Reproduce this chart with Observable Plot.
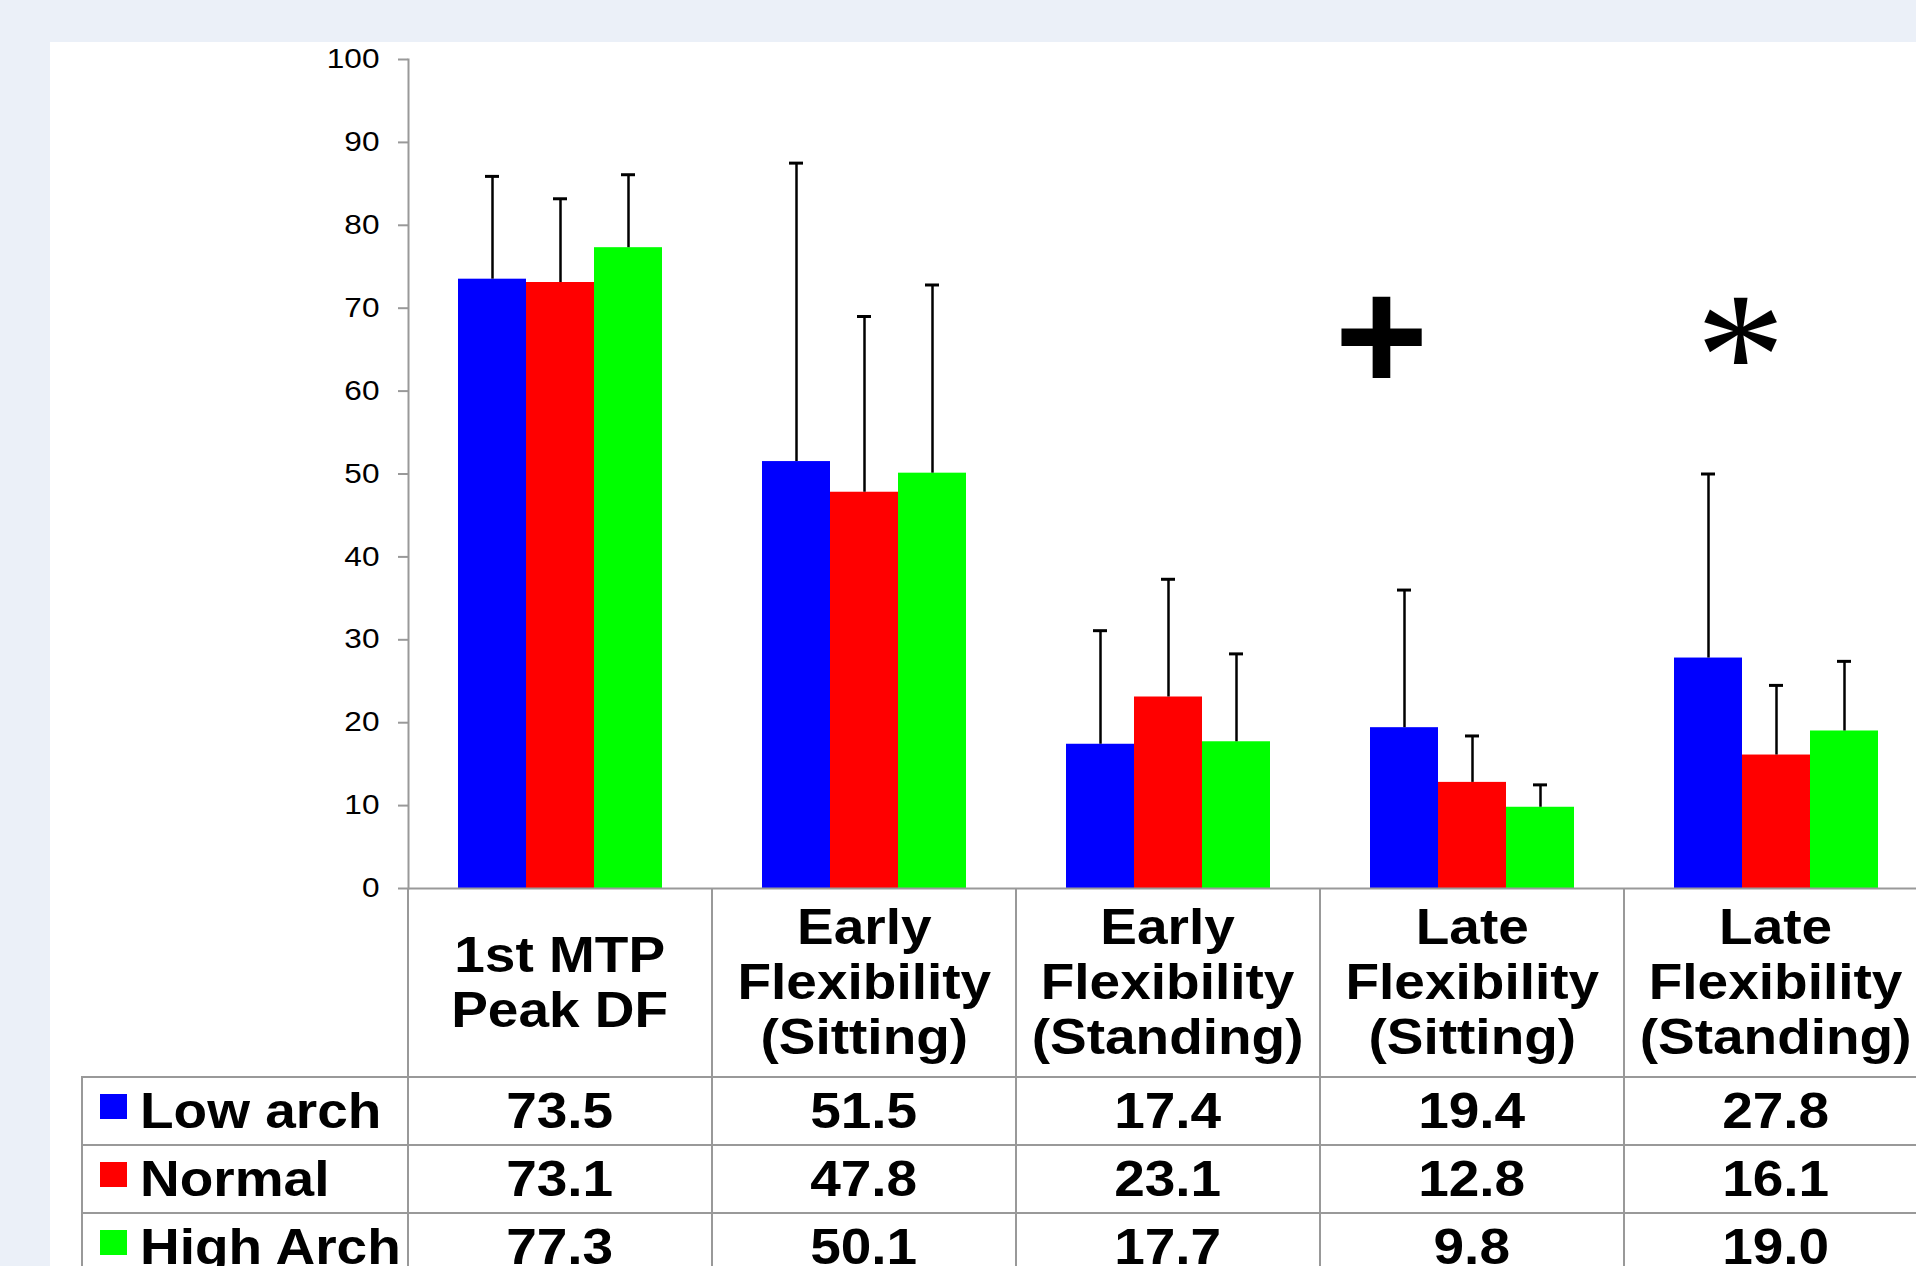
<!DOCTYPE html>
<html>
<head>
<meta charset="utf-8">
<script src="https://cdn.jsdelivr.net/npm/d3@7"></script>
<script src="https://cdn.jsdelivr.net/npm/@observablehq/plot@0.6"></script>
<style>
  html, body { margin: 0; padding: 0; width: 1916px; height: 1266px; overflow: hidden; background: #EBF0F8; }
  #panel { position: absolute; left: 50px; top: 42px; width: 1900px; height: 1300px; background: #ffffff; }
  #chart { position: absolute; left: 0; top: 0; }
  .ln { position: absolute; background: #999999; }
  .cell { position: absolute; display: flex; align-items: center; justify-content: center;
          font-family: 'Liberation Sans', Arial, sans-serif; font-weight: bold; font-size: 50px; color: #000; }
  .cell span { display: inline-block; transform: scaleX(1.1); text-align: center; line-height: 55px; white-space: nowrap; }
  .lab { justify-content: flex-start; }
  .lab span { transform-origin: left center; }
  .sw { position: absolute; width: 27px; height: 25px; }
</style>
</head>
<body>
<div id="panel"></div>
<div id="chart"></div>
<div id="table"></div>
<script>
// ---- data ----
const categories = [
  "1st MTP\nPeak DF",
  "Early\nFlexibility\n(Sitting)",
  "Early\nFlexibility\n(Standing)",
  "Late\nFlexibility\n(Sitting)",
  "Late\nFlexibility\n(Standing)"
];
const series = ["Low arch", "Normal", "High Arch"];
const colors = ["#0000ff", "#ff0000", "#00ff00"];
const lowArch  = [73.5, 51.5, 17.4, 19.4, 27.8];
const normal   = [73.1, 47.8, 23.1, 12.8, 16.1];
const highArch = [77.3, 50.1, 17.7, 9.8, 19.0];
const lowArchSD  = [12.4, 36.0, 13.7, 16.6, 22.2];
const normalSD   = [10.1, 21.2, 14.2, 5.6, 8.4];
const highArchSD = [8.8, 22.7, 10.6, 2.7, 8.4];
const yTicks = [0, 10, 20, 30, 40, 50, 60, 70, 80, 90, 100];
const plusCategory = categories[3];
const plusValue = 66.2;
const starCategory = categories[4];
const starValue = 64;

const means = [lowArch, normal, highArch];
const sds = [lowArchSD, normalSD, highArchSD];
const rows = [];
series.forEach((s, si) => categories.forEach((c, ci) => {
  rows.push({cat: c, series: s, value: means[si][ci], top: means[si][ci] + sds[si][ci]});
}));

const plot = Plot.plot({
  width: 1930,
  height: 1266,
  marginLeft: 408,
  marginRight: 2,
  marginTop: 59,
  marginBottom: 378,
  style: {background: "transparent", fontFamily: "'Liberation Sans', Arial, sans-serif", overflow: "visible"},
  fx: {domain: categories, padding: 0, axis: null},
  x: {domain: series, paddingInner: 0, paddingOuter: 0.735, axis: null},
  y: {domain: [0, 100], axis: null},
  color: {domain: series, range: colors},
  marks: [
    Plot.barY(rows, {fx: "cat", x: "series", y: "value", fill: "series"}),
    Plot.ruleX(rows, {fx: "cat", x: "series", y1: "value", y2: "top", stroke: "#000", strokeWidth: 2.5}),
    Plot.tickY(rows, {fx: "cat", x: "series", y: "top", stroke: "#000", strokeWidth: 3, insetLeft: 27, insetRight: 27}),
    Plot.ruleY([0], {stroke: "#999", strokeWidth: 2}),
    Plot.frame({anchor: "left", facetAnchor: "left", stroke: "#999", strokeWidth: 2}),
    Plot.axisY({ticks: yTicks, tickSize: 10, tickPadding: 19, fontSize: 27, stroke: "#999", strokeWidth: 2, fill: "#000", label: null, tickFormat: d => String(d)}),
    Plot.text([{cat: plusCategory, series: series[0], y: plusValue, t: "+"}],
      {fx: "cat", x: "series", y: "y", text: "t", dx: -23, fontSize: 160, fontWeight: "bold", fill: "#000", lineAnchor: "middle",
       fontFamily: "'Liberation Sans', Arial, sans-serif"}),
    Plot.text([{cat: starCategory, series: series[0], y: starValue, t: "*"}],
      {fx: "cat", x: "series", y: "y", text: "t", dx: 32, fontSize: 180, fill: "#000", lineAnchor: "middle",
       fontFamily: "'Liberation Serif', 'Times New Roman', serif"})
  ]
});
plot.style.maxWidth = "none";
plot.style.background = "transparent";
document.getElementById("chart").appendChild(plot);

// stretch tick labels horizontally like the original
d3.select(plot).selectAll('g[aria-label="y-axis tick label"] text')
  .attr("transform", function() { return (this.getAttribute("transform") || "") + " scale(1.17,1)"; });

// ---- data table below the chart, aligned on the fx scale ----
const fx = plot.scale("fx");
const ys = plot.scale("y");
const colLeft = c => fx.apply(c);
const colW = fx.bandwidth;
const y0 = ys.apply(0);
const headerBottom = y0 + 189;
const rowH = 68;
const tableLeft = 82;
const table = d3.select("#table");

// lines
categories.forEach(c => {
  table.append("div").attr("class", "ln")
    .style("left", (colLeft(c) - 1) + "px").style("top", y0 + "px")
    .style("width", "2px").style("height", (1300 - y0) + "px");
});
table.append("div").attr("class", "ln")
  .style("left", (tableLeft - 1) + "px").style("top", headerBottom + "px")
  .style("width", "2px").style("height", (1300 - headerBottom) + "px");
for (let r = 0; r <= series.length; r++) {
  table.append("div").attr("class", "ln")
    .style("left", (tableLeft - 1) + "px").style("top", (headerBottom + r * rowH - 1) + "px")
    .style("width", (1940 - tableLeft) + "px").style("height", "2px");
}

// header cells
categories.forEach(c => {
  const cell = table.append("div").attr("class", "cell")
    .style("left", colLeft(c) + "px").style("top", y0 + "px")
    .style("width", colW + "px").style("height", (headerBottom - y0) + "px");
  const sp = cell.append("span");
  c.split("\n").forEach((line, i) => {
    if (i) sp.append("br");
    sp.append(() => document.createTextNode(line));
  });
});

// rows
series.forEach((s, si) => {
  const top = headerBottom + si * rowH;
  table.append("div").attr("class", "sw")
    .style("left", "100px").style("top", (top + 17) + "px").style("background", colors[si]);
  table.append("div").attr("class", "cell lab")
    .style("left", "140px").style("top", top + "px")
    .style("width", (colLeft(categories[0]) - 140) + "px").style("height", rowH + "px")
    .append("span").text(s);
  categories.forEach((c, ci) => {
    table.append("div").attr("class", "cell")
      .style("left", colLeft(c) + "px").style("top", top + "px")
      .style("width", colW + "px").style("height", rowH + "px")
      .append("span").text(means[si][ci].toFixed(1));
  });
});
</script>
</body>
</html>
